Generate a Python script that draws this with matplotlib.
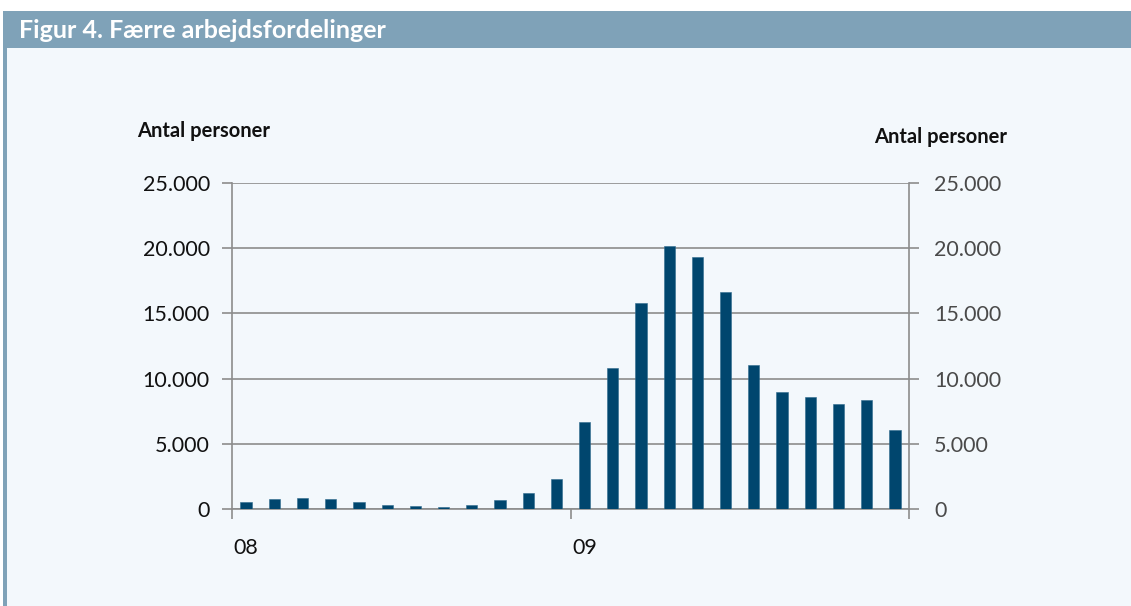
import matplotlib
matplotlib.use('Agg')
import matplotlib.pyplot as plt
from matplotlib.patches import Rectangle

plt.rcParams['font.family'] = ['Lato', 'DejaVu Sans']

# Antal personer på arbejdsfordeling, månedlig 2008-2009
months = ['jan08', 'feb08', 'mar08', 'apr08', 'maj08', 'jun08', 'jul08', 'aug08',
          'sep08', 'okt08', 'nov08', 'dec08',
          'jan09', 'feb09', 'mar09', 'apr09', 'maj09', 'jun09', 'jul09', 'aug09',
          'sep09', 'okt09', 'nov09', 'dec09']
persons = [500, 800, 830, 750, 520, 290, 210, 190, 290, 670, 1260, 2280,
           6700, 10830, 15830, 20160, 19340, 16640, 11010, 9000, 8560, 8030, 8330, 6040]
year_labels = ['08', '09']
yticks = [0, 5000, 10000, 15000, 20000, 25000]

BAR = '#00466e'
GRID = '#8c8c8c'
BAND = '#7fa2b8'
PANEL = '#f3f8fc'

W, H = 1131, 606
fig = plt.figure(figsize=(W / 100, H / 100), dpi=100)
fig.patch.set_facecolor('white')

# background panel, title band and left stripe
fig.add_artist(Rectangle((7 / W, 0), 1 - 7 / W, 1 - 48 / H, transform=fig.transFigure,
                         facecolor=PANEL, edgecolor='none', zorder=0))
fig.add_artist(Rectangle((3 / W, 1 - 48 / H), 1 - 3 / W, 37 / H, transform=fig.transFigure,
                         facecolor=BAND, edgecolor='none', zorder=0))
fig.add_artist(Rectangle((3 / W, 0), 4 / W, 1 - 48 / H, transform=fig.transFigure,
                         facecolor=BAND, edgecolor='none', zorder=0))
fig.text(19 / W, 1 - 30 / H, 'Figur 4. Færre arbejdsfordelinger', color='white',
         fontsize=18, fontweight='bold', ha='left', va='center')

ax = fig.add_axes([232 / W, 1 - 509 / H, 677 / W, 326 / H])
ax.set_facecolor('none')
x = list(range(len(months)))
ax.bar(x, persons, width=0.4, color=BAR, edgecolor='#2f6a8e', linewidth=0.4, zorder=3)

ax.set_xlim(-0.5, len(months) - 0.5)
ax.set_ylim(0, 25000)
ax.set_yticks(yticks)
ax.set_yticklabels([f'{v:,}'.replace(',', '.') for v in yticks])
ax.yaxis.grid(True, color=GRID, linewidth=1.2)
ax.set_axisbelow(True)

ax.set_xticks([-0.5, 11.5, 23.5])
ax.set_xticklabels([])
ax.set_xticks([0, 12], minor=True)
ax.set_xticklabels(year_labels, minor=True)
ax.tick_params(axis='x', which='major', length=7, width=1.2, color=GRID, direction='out')
ax.tick_params(axis='x', which='minor', length=0, pad=21, labelsize=15.5, labelcolor='#111111')
ax.tick_params(axis='y', length=7, width=1.2, color=GRID, pad=9, labelsize=15.5,
               labelcolor='#111111')

for side in ['left', 'right', 'bottom']:
    ax.spines[side].set_color(GRID)
    ax.spines[side].set_linewidth(1.2)
ax.spines['top'].set_visible(False)

ax2 = ax.twinx()
ax2.set_ylim(0, 25000)
ax2.set_yticks(yticks)
ax2.set_yticklabels([f'{v:,}'.replace(',', '.') for v in yticks])
ax2.tick_params(axis='y', length=7, width=1.2, color=GRID, pad=11, labelsize=15.5,
                labelcolor='#4a4a4a')
for side in ['left', 'right', 'bottom', 'top']:
    ax2.spines[side].set_visible(False)

fig.text(137 / W, 1 - 137 / H, 'Antal personer', fontsize=14.5, fontweight='bold',
         ha='left', va='baseline', color='#111111')
fig.text(1007 / W, 1 - 143 / H, 'Antal personer', fontsize=14.5, fontweight='bold',
         ha='right', va='baseline', color='#111111')

fig.savefig('out.png', dpi=100)
